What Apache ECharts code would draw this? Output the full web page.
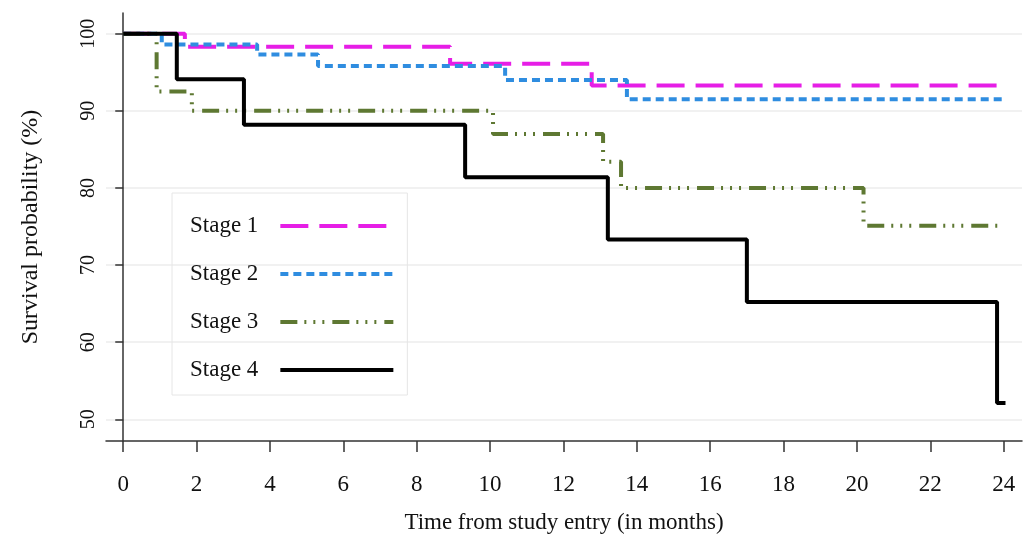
<!DOCTYPE html>
<html>
<head>
<meta charset="utf-8">
<script src="https://cdn.jsdelivr.net/npm/echarts@6/dist/echarts.min.js"></script>
<style>
html,body{margin:0;padding:0;background:#fff;}
#chart{width:1029px;height:536px;}
</style>
</head>
<body>
<div id="chart"></div>
<script>
// ---- data ----
var stageNames = ['Stage 1', 'Stage 2', 'Stage 3', 'Stage 4'];
var xTicks = [0, 2, 4, 6, 8, 10, 12, 14, 16, 18, 20, 22, 24];
var yTicks = [50, 60, 70, 80, 90, 100];

var stage1Time = [0, 1.68, 8.91, 12.77, 24.0];
var stage1Surv = [100, 98.3, 96.1, 93.3, 93.3];

var stage2Time = [0, 1.05, 3.65, 5.31, 10.41, 13.73, 24.0];
var stage2Surv = [100, 98.6, 97.3, 95.8, 94.0, 91.5, 91.5];

var stage3Time = [0, 0.91, 1.87, 10.08, 13.08, 13.57, 20.18, 24.0];
var stage3Surv = [100, 92.5, 90.0, 87.0, 83.4, 80.0, 75.1, 75.1];

var stage4Time = [0, 1.46, 3.29, 9.32, 13.21, 17.0, 23.82, 24.05];
var stage4Surv = [100, 94.1, 88.2, 81.4, 73.3, 65.2, 52.1, 52.1];

function pairs(t, v) { return t.map(function (x, i) { return [x, v[i]]; }); }

var serif = "'Liberation Serif', 'Times New Roman', serif";
var chart = echarts.init(document.getElementById('chart'));

var option = {
  animation: false,
  backgroundColor: '#ffffff',
  grid: { left: 106, right: 7, top: 13, bottom: 95, containLabel: false, outerBoundsMode: 'none' },
  legend: {
    data: stageNames,
    orient: 'vertical',
    left: 172,
    top: 193,
    align: 'right',
    padding: [20, 12, 12, 18],
    borderColor: '#e6e6e6',
    borderWidth: 1,
    itemWidth: 113,
    itemHeight: 14,
    itemGap: 22,
    selectedMode: false,
    itemStyle: { opacity: 0 },
    lineStyle: { width: 4 },
    textStyle: { fontFamily: serif, fontSize: 23, color: '#111', lineHeight: 26, padding: [0, 17, 0, 0] }
  },
  xAxis: {
    type: 'value',
    min: -0.47,
    max: 24.5,
    name: 'Time from study entry (in months)',
    nameLocation: 'middle',
    nameGap: 70,
    nameTextStyle: { fontFamily: serif, fontSize: 23, color: '#111' },
    axisLine: { show: true, onZero: false, lineStyle: { color: '#333', width: 1.5 } },
    axisTick: { show: true, length: 11, customValues: xTicks, lineStyle: { color: '#333', width: 1.5 } },
    axisLabel: { customValues: xTicks, margin: 32, fontFamily: serif, fontSize: 23, color: '#111' },
    splitLine: { show: false }
  },
  yAxis: {
    type: 'value',
    min: 47.18,
    max: 102.69,
    name: 'Survival probability (%)',
    nameLocation: 'middle',
    nameGap: 63,
    nameTextStyle: { fontFamily: serif, fontSize: 24, color: '#111' },
    axisLine: { show: true, lineStyle: { color: '#333', width: 1.5 } },
    axisTick: { show: true, length: 8, customValues: yTicks, lineStyle: { color: '#333', width: 1.5 } },
    axisLabel: { customValues: yTicks, rotate: 90, margin: 7, fontFamily: serif, fontSize: 20, color: '#111' },
    splitLine: { show: true, lineStyle: { color: '#ececec', width: 1.5 } }
  },
  series: [
    {
      name: 'Stage 1', type: 'line', step: 'end', symbol: 'none',
      data: pairs(stage1Time, stage1Surv),
      lineStyle: { color: '#e61ee6', width: 4, type: [28, 11] },
      itemStyle: { color: '#e61ee6' }, z: 3
    },
    {
      name: 'Stage 2', type: 'line', step: 'end', symbol: 'none',
      data: pairs(stage2Time, stage2Surv),
      lineStyle: { color: '#2f8de0', width: 4, type: [8, 5] },
      itemStyle: { color: '#2f8de0' }, z: 3
    },
    {
      name: 'Stage 3', type: 'line', step: 'end', symbol: 'none',
      data: pairs(stage3Time, stage3Surv),
      lineStyle: { color: '#5e7832', width: 4, type: [17, 7, 2, 7, 2, 7, 2, 8] },
      itemStyle: { color: '#5e7832' }, z: 3
    },
    {
      name: 'Stage 4', type: 'line', step: 'end', symbol: 'none',
      data: pairs(stage4Time, stage4Surv),
      lineStyle: { color: '#000000', width: 4 },
      itemStyle: { color: '#000000' }, z: 4
    }
  ]
};
chart.setOption(option);
</script>
</body>
</html>
